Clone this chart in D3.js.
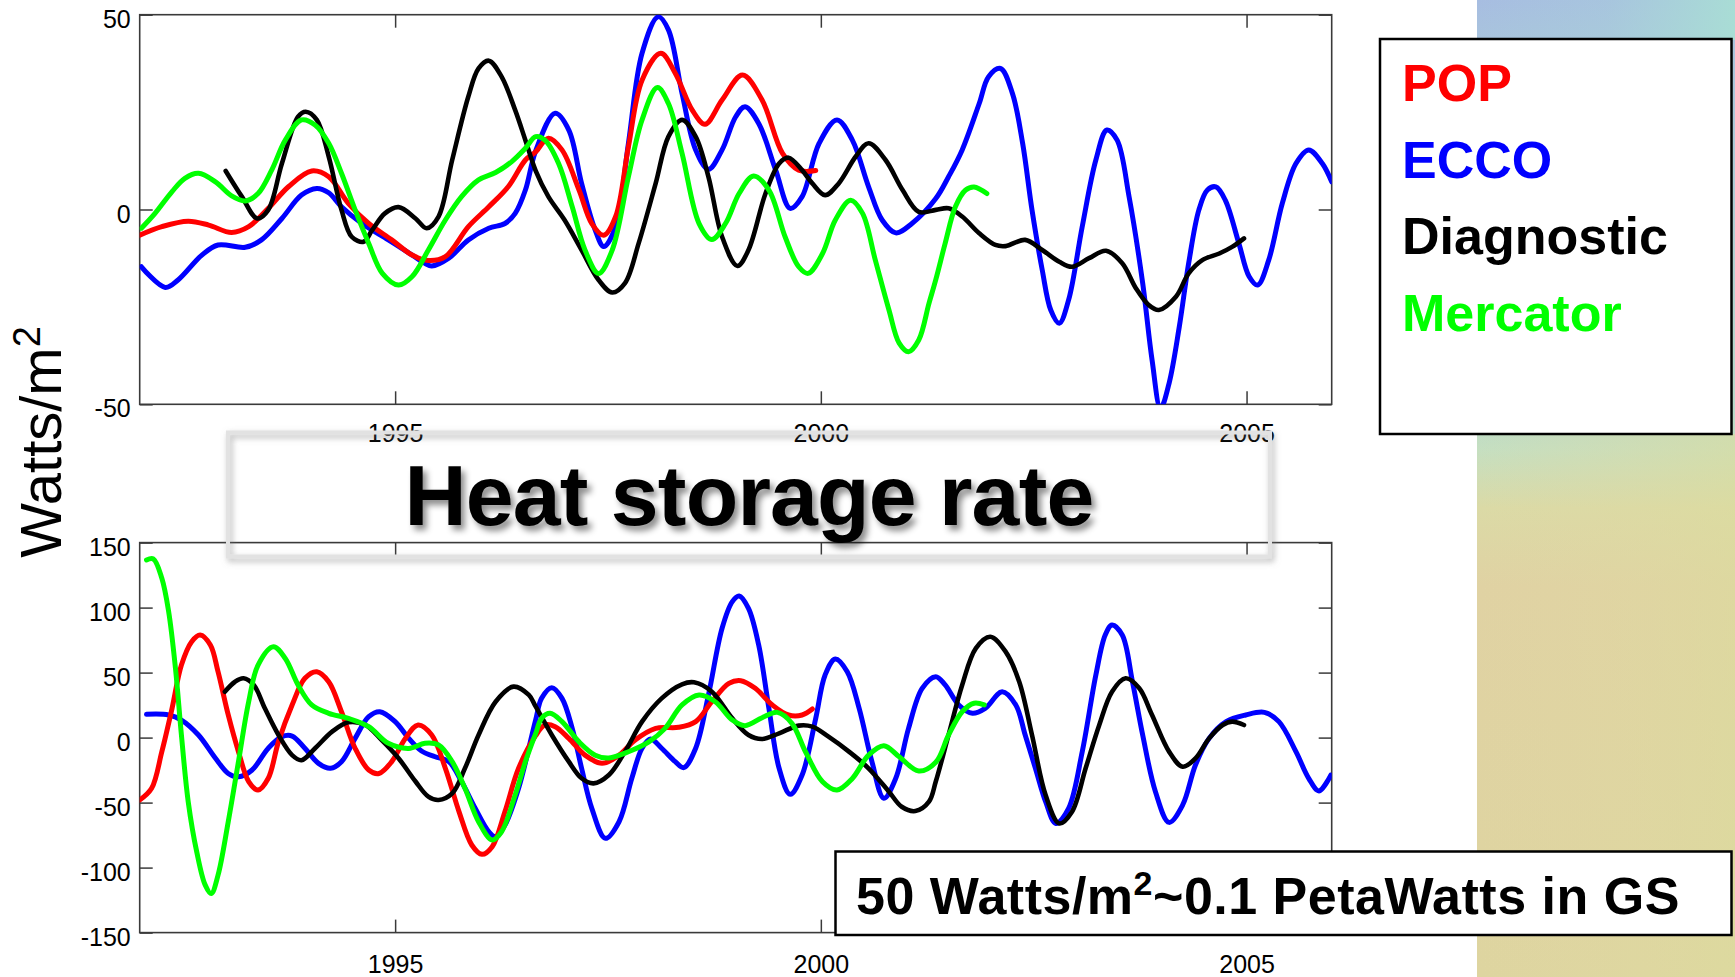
<!DOCTYPE html>
<html>
<head>
<meta charset="utf-8">
<script src="https://cdn.jsdelivr.net/npm/d3@7"></script>
<style>
  html, body { margin: 0; padding: 0; background: #fff; }
  svg { display: block; }
  text { font-family: "Liberation Sans", Arial, Helvetica, sans-serif; }
</style>
</head>
<body>
<svg id="chart" width="1735" height="977"></svg>
<script>
// series names and colours
const seriesNames = ["POP", "ECCO", "Diagnostic", "Mercator"];
const seriesColors = ["#ff0000", "#0000ff", "#000000", "#00ff00"];

// x ticks (years) and y ticks
const yearTicks = [1995, 2000, 2005];
const topTicks = [-50, 0, 50];
const bottomTicks = [-150, -100, -50, 0, 50, 100, 150];

// upper panel, [year, W/m2]
const topPOP = [[1992.0,-6.6],[1992.26,-4.4],[1992.57,-3.0],[1992.81,-4.0],[1993.08,-5.9],[1993.28,-4.4],[1993.51,0.3],[1993.75,5.9],[1994.02,9.9],[1994.22,8.4],[1994.45,1.6],[1994.69,-3.6],[1994.96,-7.8],[1995.2,-11.7],[1995.39,-13.1],[1995.59,-12.1],[1995.86,-4.4],[1996.1,0.7],[1996.33,5.9],[1996.53,12.7],[1996.65,14.8],[1996.8,18.3],[1996.96,15.3],[1997.16,5.0],[1997.31,-3.6],[1997.45,-6.6],[1997.59,-1.8],[1997.74,16.1],[1997.9,33.2],[1998.12,40.1],[1998.29,35.0],[1998.49,25.5],[1998.64,21.9],[1998.84,28.1],[1999.08,34.5],[1999.31,28.1],[1999.55,14.4],[1999.74,10.1],[1999.94,10.0]];
const topECCO = [[1992.02,-14.7],[1992.3,-20.0],[1992.45,-18.1],[1992.73,-11.7],[1992.92,-9.1],[1993.24,-9.7],[1993.43,-7.8],[1993.67,-2.3],[1993.9,3.7],[1994.08,5.4],[1994.22,4.3],[1994.37,0.7],[1994.61,-3.6],[1994.92,-7.8],[1995.2,-11.7],[1995.35,-13.8],[1995.43,-14.5],[1995.63,-12.5],[1995.86,-7.8],[1996.1,-4.8],[1996.29,-3.6],[1996.41,-1.0],[1996.53,5.0],[1996.65,15.0],[1996.88,24.7],[1997.04,20.4],[1997.19,6.7],[1997.35,-5.3],[1997.45,-9.5],[1997.59,-4.4],[1997.74,17.0],[1997.9,40.1],[1998.09,49.5],[1998.21,46.1],[1998.37,29.8],[1998.53,15.3],[1998.68,10.3],[1998.84,15.3],[1999.0,23.8],[1999.11,26.4],[1999.27,22.1],[1999.47,10.1],[1999.64,0.3],[1999.78,3.3],[1999.98,17.0],[2000.19,23.0],[2000.37,17.8],[2000.56,5.9],[2000.72,-2.7],[2000.88,-6.0],[2001.07,-3.6],[2001.35,2.8],[2001.5,8.4],[2001.66,15.3],[2001.86,27.2],[2001.97,34.1],[2002.11,36.2],[2002.25,29.8],[2002.37,17.0],[2002.48,-0.1],[2002.6,-15.5],[2002.7,-25.8],[2002.8,-29.2],[2002.91,-23.2],[2003.07,-4.4],[2003.23,12.7],[2003.36,20.4],[2003.48,17.8],[2003.62,3.3],[2003.78,-18.9],[2003.89,-38.6],[2003.99,-51.0],[2004.09,-44.6],[2004.21,-30.1],[2004.32,-13.8],[2004.44,-0.1],[2004.54,5.0],[2004.64,5.8],[2004.75,2.4],[2004.91,-8.7],[2005.03,-17.2],[2005.13,-19.4],[2005.26,-13.0],[2005.42,1.6],[2005.58,11.8],[2005.73,15.3],[2005.89,11.8],[2006.0,7.1]];
const topDiag = [[1993.01,9.9],[1993.2,3.3],[1993.38,-2.3],[1993.51,-0.1],[1993.67,11.8],[1993.86,23.8],[1993.95,25.1],[1994.08,23.0],[1994.22,13.6],[1994.37,-0.1],[1994.49,-7.0],[1994.63,-8.3],[1994.73,-5.3],[1994.88,-1.0],[1995.04,0.6],[1995.24,-2.3],[1995.37,-4.8],[1995.51,-1.8],[1995.67,12.7],[1995.86,29.0],[1995.98,36.2],[1996.1,38.2],[1996.25,34.1],[1996.41,25.5],[1996.53,17.8],[1996.65,10.0],[1996.8,3.3],[1996.99,-2.7],[1997.19,-10.4],[1997.39,-18.1],[1997.55,-21.3],[1997.7,-18.9],[1997.86,-8.7],[1998.06,6.7],[1998.21,18.7],[1998.37,23.0],[1998.53,18.7],[1998.68,8.4],[1998.84,-7.0],[1999.02,-14.5],[1999.15,-10.4],[1999.35,4.1],[1999.51,11.8],[1999.62,13.3],[1999.78,10.1],[1999.9,6.7],[2000.05,3.7],[2000.21,6.7],[2000.41,13.6],[2000.56,17.0],[2000.76,12.7],[2000.96,5.0],[2001.15,-0.6],[2001.35,-0.1],[2001.5,0.3],[2001.66,-1.8],[2001.86,-6.1],[2002.05,-9.1],[2002.17,-9.4],[2002.4,-7.8],[2002.6,-10.4],[2002.8,-13.4],[2002.95,-14.7],[2003.15,-12.5],[2003.35,-10.6],[2003.54,-13.8],[2003.7,-20.2],[2003.85,-24.5],[2003.97,-25.8],[2004.17,-22.4],[2004.32,-16.4],[2004.48,-13.0],[2004.68,-11.3],[2004.83,-9.6],[2004.97,-7.4]];
const topMerc = [[1992.02,-4.8],[1992.18,-1.0],[1992.38,4.6],[1992.53,8.0],[1992.69,9.3],[1992.89,7.1],[1993.08,3.5],[1993.24,2.2],[1993.39,4.1],[1993.55,10.1],[1993.71,17.8],[1993.9,23.0],[1994.06,21.7],[1994.22,17.0],[1994.37,9.3],[1994.53,-0.1],[1994.69,-8.7],[1994.85,-16.4],[1995.04,-19.4],[1995.2,-17.2],[1995.39,-10.4],[1995.59,-2.7],[1995.78,3.3],[1995.98,7.6],[1996.18,9.5],[1996.37,12.3],[1996.53,15.7],[1996.65,18.7],[1996.76,17.8],[1996.92,11.8],[1997.08,0.7],[1997.23,-10.4],[1997.39,-16.4],[1997.55,-10.4],[1997.74,8.4],[1997.9,23.0],[1998.08,31.3],[1998.21,27.2],[1998.37,14.4],[1998.57,-3.6],[1998.72,-7.7],[1998.88,-3.6],[1999.04,4.1],[1999.21,8.6],[1999.39,5.0],[1999.58,-7.0],[1999.74,-14.7],[1999.85,-16.4],[2000.02,-11.3],[2000.17,-2.7],[2000.35,2.4],[2000.49,-1.0],[2000.64,-13.0],[2000.8,-25.8],[2000.92,-34.3],[2001.03,-36.5],[2001.15,-33.5],[2001.27,-24.1],[2001.35,-18.0],[2001.46,-8.7],[2001.58,0.7],[2001.7,5.0],[2001.8,5.8],[2001.95,4.1]];

// lower panel, [year, W/m2]
const botPOP = [[1992.0,-48.0],[1992.14,-39.0],[1992.26,-10.8],[1992.38,22.5],[1992.49,55.8],[1992.61,73.8],[1992.71,78.9],[1992.83,71.2],[1992.92,50.7],[1993.04,17.4],[1993.16,-10.8],[1993.28,-33.8],[1993.39,-40.3],[1993.51,-31.3],[1993.63,-3.1],[1993.79,25.1],[1993.94,45.6],[1994.08,50.7],[1994.22,43.0],[1994.37,19.9],[1994.53,-8.2],[1994.69,-24.9],[1994.81,-27.6],[1994.96,-18.5],[1995.12,-0.6],[1995.27,9.7],[1995.43,2.0],[1995.59,-23.6],[1995.75,-56.9],[1995.9,-82.6],[1996.02,-89.8],[1996.14,-83.9],[1996.29,-56.9],[1996.45,-23.6],[1996.65,1.5],[1996.76,9.7],[1996.88,8.4],[1997.04,-0.6],[1997.23,-13.5],[1997.43,-19.8],[1997.63,-13.5],[1997.82,-1.8],[1998.06,7.1],[1998.33,7.9],[1998.53,12.3],[1998.72,27.6],[1998.92,41.7],[1999.06,43.8],[1999.23,37.9],[1999.43,25.1],[1999.62,17.4],[1999.78,17.4],[1999.9,22.0]];
const botECCO = [[1992.08,17.9],[1992.34,17.4],[1992.49,13.5],[1992.69,2.0],[1992.89,-15.9],[1993.04,-27.6],[1993.16,-30.2],[1993.32,-24.9],[1993.51,-8.2],[1993.67,0.7],[1993.79,1.2],[1993.94,-8.2],[1994.1,-19.8],[1994.24,-23.6],[1994.37,-18.5],[1994.53,-0.6],[1994.69,16.1],[1994.82,19.9],[1995.0,12.3],[1995.16,-0.6],[1995.31,-10.3],[1995.47,-14.7],[1995.63,-18.5],[1995.78,-33.8],[1995.94,-54.3],[1996.1,-72.4],[1996.18,-76.2],[1996.29,-67.3],[1996.45,-39.0],[1996.65,13.5],[1996.72,30.2],[1996.84,38.4],[1996.96,30.2],[1997.08,7.1],[1997.19,-23.6],[1997.31,-54.4],[1997.47,-77.5],[1997.63,-64.7],[1997.78,-31.3],[1997.9,-8.2],[1998.0,-1.1],[1998.13,-8.2],[1998.29,-18.5],[1998.39,-23.1],[1998.53,-8.2],[1998.68,32.8],[1998.84,84.1],[1998.96,104.6],[1999.04,108.9],[1999.15,99.4],[1999.27,71.2],[1999.39,22.5],[1999.51,-23.6],[1999.64,-43.6],[1999.78,-28.8],[1999.94,14.8],[2000.05,48.2],[2000.17,60.5],[2000.31,50.7],[2000.45,22.5],[2000.6,-18.5],[2000.74,-46.7],[2000.88,-31.3],[2001.03,7.1],[2001.19,37.9],[2001.35,46.9],[2001.46,40.5],[2001.62,25.1],[2001.78,18.7],[2001.93,22.5],[2002.13,35.3],[2002.29,25.1],[2002.4,2.0],[2002.52,-23.6],[2002.64,-49.3],[2002.76,-66.0],[2002.91,-54.4],[2003.07,-10.8],[2003.23,48.2],[2003.34,78.9],[2003.42,86.6],[2003.54,78.9],[2003.66,43.0],[2003.78,2.0],[2003.93,-41.6],[2004.09,-65.2],[2004.25,-51.8],[2004.4,-21.1],[2004.56,-0.6],[2004.76,12.3],[2004.99,17.4],[2005.21,19.4],[2005.38,12.3],[2005.58,-10.8],[2005.73,-31.3],[2005.85,-41.0],[2005.99,-28.8]];
const botDiag = [[1993.0,35.3],[1993.12,43.0],[1993.22,45.6],[1993.34,40.5],[1993.47,22.5],[1993.63,2.0],[1993.79,-13.5],[1993.9,-17.4],[1994.06,-8.2],[1994.26,4.6],[1994.45,11.8],[1994.65,9.7],[1994.84,-1.8],[1995.04,-15.9],[1995.24,-33.8],[1995.39,-45.4],[1995.51,-48.0],[1995.67,-42.9],[1995.82,-23.6],[1995.98,2.0],[1996.18,27.6],[1996.39,39.2],[1996.57,32.8],[1996.65,24.0],[1996.84,2.0],[1997.04,-18.5],[1997.19,-31.3],[1997.33,-35.2],[1997.51,-28.8],[1997.7,-10.8],[1997.9,12.3],[1998.13,30.2],[1998.37,41.0],[1998.51,42.5],[1998.72,35.3],[1998.96,14.8],[1999.15,2.0],[1999.31,-1.1],[1999.51,3.3],[1999.74,9.2],[1999.9,8.4],[2000.09,0.7],[2000.33,-10.8],[2000.56,-23.6],[2000.8,-41.6],[2000.95,-53.2],[2001.11,-56.5],[2001.27,-49.3],[2001.35,-33.8],[2001.5,2.0],[2001.66,40.5],[2001.82,68.7],[2001.99,77.6],[2002.17,66.1],[2002.33,43.0],[2002.48,2.0],[2002.64,-44.2],[2002.8,-66.0],[2002.95,-57.0],[2003.11,-23.6],[2003.27,9.7],[2003.42,35.3],[2003.58,45.6],[2003.74,37.9],[2003.89,17.4],[2004.09,-10.8],[2004.25,-22.4],[2004.4,-16.0],[2004.56,-0.6],[2004.72,9.7],[2004.83,12.3],[2004.97,9.7]];
const botMerc = [[1992.08,136.6],[1992.16,137.4],[1992.26,122.5],[1992.34,96.9],[1992.42,53.3],[1992.49,2.0],[1992.57,-49.4],[1992.67,-87.9],[1992.77,-113.5],[1992.84,-119.9],[1992.92,-105.8],[1993.04,-64.7],[1993.16,-18.5],[1993.28,27.6],[1993.39,55.8],[1993.57,69.9],[1993.71,60.9],[1993.86,40.5],[1994.02,25.1],[1994.22,18.7],[1994.45,14.8],[1994.69,8.4],[1994.92,-4.4],[1995.16,-8.3],[1995.35,-4.4],[1995.51,-5.7],[1995.67,-18.5],[1995.82,-39.0],[1995.98,-64.7],[1996.14,-78.8],[1996.25,-72.4],[1996.41,-44.1],[1996.53,-18.5],[1996.65,3.0],[1996.72,14.8],[1996.82,18.7],[1996.96,12.3],[1997.16,-3.3],[1997.35,-13.5],[1997.51,-15.6],[1997.74,-10.9],[1997.98,-3.3],[1998.17,7.1],[1998.37,25.1],[1998.57,32.8],[1998.76,27.6],[1998.96,13.5],[1999.11,9.2],[1999.31,15.3],[1999.49,19.4],[1999.66,11.0],[1999.82,-10.9],[2000.02,-34.0],[2000.19,-40.3],[2000.37,-31.4],[2000.56,-13.5],[2000.74,-6.2],[2000.92,-14.7],[2001.15,-25.7],[2001.35,-19.0],[2001.5,2.0],[2001.66,19.9],[2001.8,26.4],[2001.92,25.1]];

const svg = d3.select("#chart");
const defs = svg.append("defs");

// soft shadows for the title box and title text
const boxShadow = defs.append("filter").attr("id", "boxShadow")
    .attr("x", "-5%").attr("y", "-20%").attr("width", "110%").attr("height", "140%");
boxShadow.append("feDropShadow").attr("dx", 2).attr("dy", 3).attr("stdDeviation", 3)
    .attr("flood-color", "#777").attr("flood-opacity", 0.55);
const textShadow = defs.append("filter").attr("id", "textShadow")
    .attr("x", "-5%").attr("y", "-20%").attr("width", "110%").attr("height", "140%");
textShadow.append("feDropShadow").attr("dx", 4).attr("dy", 5).attr("stdDeviation", 3)
    .attr("flood-color", "#000").attr("flood-opacity", 0.45);

// map-like background strip on the right
const bgV = defs.append("linearGradient").attr("id", "bgV")
    .attr("x1", 0).attr("y1", 0).attr("x2", 0).attr("y2", 1);
[[0, "#a7bde1"], [0.05, "#a9c5dc"], [0.42, "#b9d9c9"], [0.46, "#c5dfc1"],
 [0.52, "#dbdaa6"], [0.6, "#e0d2a3"], [1, "#ded5a0"]].forEach(s =>
    bgV.append("stop").attr("offset", s[0]).attr("stop-color", s[1]));
const bgH = defs.append("linearGradient").attr("id", "bgH")
    .attr("x1", 0).attr("y1", 0).attr("x2", 1).attr("y2", 0);
bgH.append("stop").attr("offset", 0).attr("stop-color", "#a9dcd6").attr("stop-opacity", 0);
bgH.append("stop").attr("offset", 0.5).attr("stop-color", "#a9dcd6").attr("stop-opacity", 0.25);
bgH.append("stop").attr("offset", 1).attr("stop-color", "#a9e0d4").attr("stop-opacity", 0.9);
const bgY = defs.append("linearGradient").attr("id", "bgY")
    .attr("x1", 0).attr("y1", 0).attr("x2", 1).attr("y2", 0);
bgY.append("stop").attr("offset", 0).attr("stop-color", "#e2d7a4").attr("stop-opacity", 0);
bgY.append("stop").attr("offset", 1).attr("stop-color", "#dcdc9e").attr("stop-opacity", 0.6);

svg.append("rect").attr("x", 1477).attr("y", 0).attr("width", 258).attr("height", 977)
    .attr("fill", "url(#bgV)");
svg.append("rect").attr("x", 1477).attr("y", 0).attr("width", 258).attr("height", 40)
    .attr("fill", "url(#bgH)");
svg.append("rect").attr("x", 1477).attr("y", 434).attr("width", 258).attr("height", 543)
    .attr("fill", "url(#bgY)");

const x = d3.scaleLinear().domain([1992, 2006]).range([139.7, 1331.7]);
const yTop = d3.scaleLinear().domain([-50, 50]).range([404.3, 14.7]);
const yBot = d3.scaleLinear().domain([-150, 150]).range([932.6, 542.6]);

const frameColor = "#3a3a3a";
const plain = d => String(d);

function drawPanel(id, y, ticks, series, xPad) {
    const [x0, x1] = x.range();
    const [y1, y0] = y.range();
    const g = svg.append("g").attr("class", id);

    defs.append("clipPath").attr("id", "clip-" + id)
        .append("rect").attr("x", x0).attr("y", y0).attr("width", x1 - x0).attr("height", y1 - y0);

    // axes with inward ticks on all four sides
    g.append("g").attr("transform", `translate(0,${y1})`)
        .call(d3.axisBottom(x).tickValues(yearTicks).tickSize(-13).tickPadding(xPad).tickFormat(plain));
    g.append("g").attr("transform", `translate(0,${y0})`)
        .call(d3.axisTop(x).tickValues(yearTicks).tickSize(-13).tickFormat(""));
    const left = g.append("g").attr("transform", `translate(${x0},0)`)
        .call(d3.axisLeft(y).tickValues(ticks).tickSize(-13).tickPadding(9).tickFormat(plain));
    g.append("g").attr("transform", `translate(${x1},0)`)
        .call(d3.axisRight(y).tickValues(ticks).tickSize(-13).tickFormat(""));

    g.selectAll(".domain").remove();
    g.selectAll(".tick line").attr("stroke", frameColor).attr("stroke-width", 1.5);
    g.selectAll(".tick text").attr("fill", "#000").style("font-size", "25px")
        .style("font-family", "'Liberation Sans', Arial, sans-serif");
    left.selectAll(".tick text").attr("y", 4.5);

    g.append("rect").attr("x", x0).attr("y", y0).attr("width", x1 - x0).attr("height", y1 - y0)
        .attr("fill", "none").attr("stroke", frameColor).attr("stroke-width", 1.6);

    const line = d3.line()
        .x(d => x(d[0]))
        .y(d => y(d[1]))
        .curve(d3.curveCatmullRom.alpha(0.5));

    const lines = g.append("g").attr("clip-path", `url(#clip-${id})`);
    // draw order: ECCO, POP, Diagnostic, Mercator
    [1, 0, 2, 3].forEach(i => {
        lines.append("path")
            .datum(series[i])
            .attr("fill", "none")
            .attr("stroke", seriesColors[i])
            .attr("stroke-width", i === 2 ? 4.6 : 5)
            .attr("stroke-linejoin", "round")
            .attr("stroke-linecap", "round")
            .attr("d", line);
    });
}

drawPanel("top", yTop, topTicks, [topPOP, topECCO, topDiag, topMerc], 20);
drawPanel("bottom", yBot, bottomTicks, [botPOP, botECCO, botDiag, botMerc], 23);

// y axis title
const ylab = svg.append("text")
    .attr("transform", "translate(61,442) rotate(-90)")
    .attr("text-anchor", "middle")
    .style("font-size", "58px")
    .attr("fill", "#000");
ylab.append("tspan").text("Watts/m");
ylab.append("tspan").attr("baseline-shift", "super").style("font-size", "38px").text("2");

// title box
svg.append("rect")
    .attr("x", 228).attr("y", 432.5).attr("width", 1042).attr("height", 124)
    .attr("fill", "none").attr("stroke", "#e2e2e2").attr("stroke-width", 4)
    .attr("filter", "url(#boxShadow)");
svg.append("text")
    .attr("x", 749).attr("y", 525)
    .attr("text-anchor", "middle")
    .style("font-size", "86px").style("font-weight", "bold").style("letter-spacing", "-0.8px")
    .attr("fill", "#000").attr("filter", "url(#textShadow)")
    .text("Heat storage rate");

// legend
svg.append("rect").attr("x", 1380).attr("y", 39).attr("width", 351.5).attr("height", 395)
    .attr("fill", "#fff").attr("stroke", "#000").attr("stroke-width", 2.5);
svg.append("g").selectAll("text").data(seriesNames).join("text")
    .attr("x", 1402)
    .attr("y", (d, i) => 100.7 + i * 76.8)
    .style("font-size", "52px").style("font-weight", "bold")
    .attr("fill", (d, i) => seriesColors[i])
    .text(d => d);

// note box
svg.append("rect").attr("x", 835.5).attr("y", 851.5).attr("width", 896).attr("height", 83.5)
    .attr("fill", "#fff").attr("stroke", "#000").attr("stroke-width", 2.5);
const note = svg.append("text")
    .attr("x", 856).attr("y", 913.8)
    .style("font-size", "52px").style("font-weight", "bold").style("letter-spacing", "0.5px")
    .attr("fill", "#000");
note.append("tspan").text("50 Watts/m");
note.append("tspan").attr("baseline-shift", "super").style("font-size", "34px").text("2");
note.append("tspan").text("~0.1 PetaWatts in GS");
</script>
</body>
</html>
